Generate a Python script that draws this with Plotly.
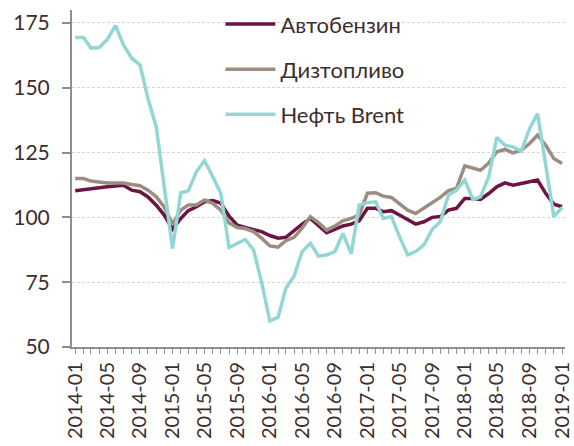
import plotly.graph_objects as go

months = [f"{y}-{m:02d}" for y in range(2014, 2019) for m in range(1, 13)] + ["2019-01"]
tick_labels = months[::4]

autobenzin = [110.3, 110.6, 110.9, 111.4, 111.8, 112.2, 112.4, 110.5, 109.9, 107.9, 104.7, 100.9,
              95.5, 99.6, 102.6, 104.1, 106.0, 106.5, 105.5, 100.5, 97.0, 96.1, 95.4, 94.5,
              93.0, 92.0, 92.3, 95.1, 97.4, 99.6, 96.7, 94.1, 95.4, 96.7, 97.4, 98.7,
              103.5, 103.5, 102.2, 102.6, 100.9, 99.0, 97.4, 98.3, 100.0, 100.3, 102.8, 103.5,
              107.3, 107.3, 106.9, 109.2, 111.8, 113.3, 112.4, 113.1, 113.7, 114.4, 109.2, 105.1,
              104.1]
dizel = [115.0, 115.0, 114.0, 113.5, 113.3, 113.3, 113.3, 112.7, 112.2, 110.5, 108.0, 104.0,
         97.5, 102.8, 104.8, 104.8, 106.7, 105.4, 102.8, 97.9, 96.1, 95.7, 94.5, 92.0,
         89.0, 88.5, 91.0, 92.3, 95.8, 100.3, 98.0, 95.1, 96.7, 98.7, 99.6, 100.9,
         109.3, 109.5, 108.2, 107.7, 105.4, 102.8, 101.5, 103.5, 105.4, 107.7, 110.3, 111.2,
         119.9, 119.1, 118.2, 121.0, 125.3, 126.2, 124.9, 125.9, 128.5, 131.7, 127.8, 122.7,
         120.8]
brent = [169.4, 169.4, 165.3, 165.5, 168.6, 174.0, 166.5, 161.4, 158.8, 145.8, 134.9, 112.0,
         88.0, 109.5, 110.2, 117.7, 121.9, 115.7, 109.3, 88.4, 89.9, 91.5, 87.4, 75.0,
         60.0, 61.5, 72.7, 77.4, 86.8, 90.0, 85.1, 85.5, 86.8, 93.8, 85.9, 104.7,
         105.7, 106.0, 99.6, 100.3, 92.6, 85.5, 86.8, 89.4, 95.4, 98.3, 108.6, 110.5,
         114.4, 106.9, 107.9, 115.6, 130.8, 127.8, 127.2, 125.6, 134.2, 140.0, 120.0, 100.3,
         103.8]

series = [
    ("Автобензин", autobenzin, "#6d1443"),
    ("Дизтопливо", dizel, "#9d8d81"),
    ("Нефть Brent", brent, "#93d7d5"),
]

text_color = "#3d2e2e"
axis_color = "#8f8f8f"
font_family = "Lato, 'Open Sans', sans-serif"

fig = go.Figure()
for name, vals, color in series:
    fig.add_trace(go.Scatter(
        x=months, y=vals, name=name, mode="lines", legendgroup=name,
        line=dict(color=color, width=3.5),
    ))

fig.update_layout(
    width=574, height=446,
    margin=dict(l=72, r=9, t=10, b=99, autoexpand=False),
    paper_bgcolor="white", plot_bgcolor="white",
    font=dict(family=font_family, color=text_color, size=21),
    showlegend=True,
    legend=dict(
        x=0.301, y=1.02, xanchor="left", yanchor="top",
        bgcolor="rgba(0,0,0,0)", font=dict(size=22, color=text_color),
        tracegroupgap=13.5, traceorder="grouped", itemwidth=50,
    ),
)

fig.update_xaxes(
    type="date",
    range=["2013-12-20", "2019-01-12"],
    tickvals=tick_labels, ticktext=tick_labels,
    tickangle=-90,
    showline=True, linecolor=axis_color, linewidth=2,
    ticks="outside", ticklen=5, tickcolor=axis_color, tickwidth=1,
    minor=dict(dtick="M1", tick0="2014-01-01", ticks="outside", ticklen=5,
               tickcolor=axis_color, tickwidth=1, showgrid=False),
    showgrid=False, zeroline=False, automargin=False,
    tickfont=dict(size=20, color=text_color),
)
fig.update_yaxes(
    range=[50, 180],
    tickvals=[50, 75, 100, 125, 150, 175],
    showline=True, linecolor=axis_color, linewidth=2,
    ticks="outside", ticklen=8, tickcolor=axis_color, tickwidth=2,
    showgrid=True, gridcolor="#d6d6d6", gridwidth=1, griddash="3px,2px",
    zeroline=False, automargin=False,
    ticklabelstandoff=8,
    tickfont=dict(size=21, color=text_color),
)

fig.write_html("out.html", config={"displayModeBar": False},
               post_script="document.body.style.margin='0';")
